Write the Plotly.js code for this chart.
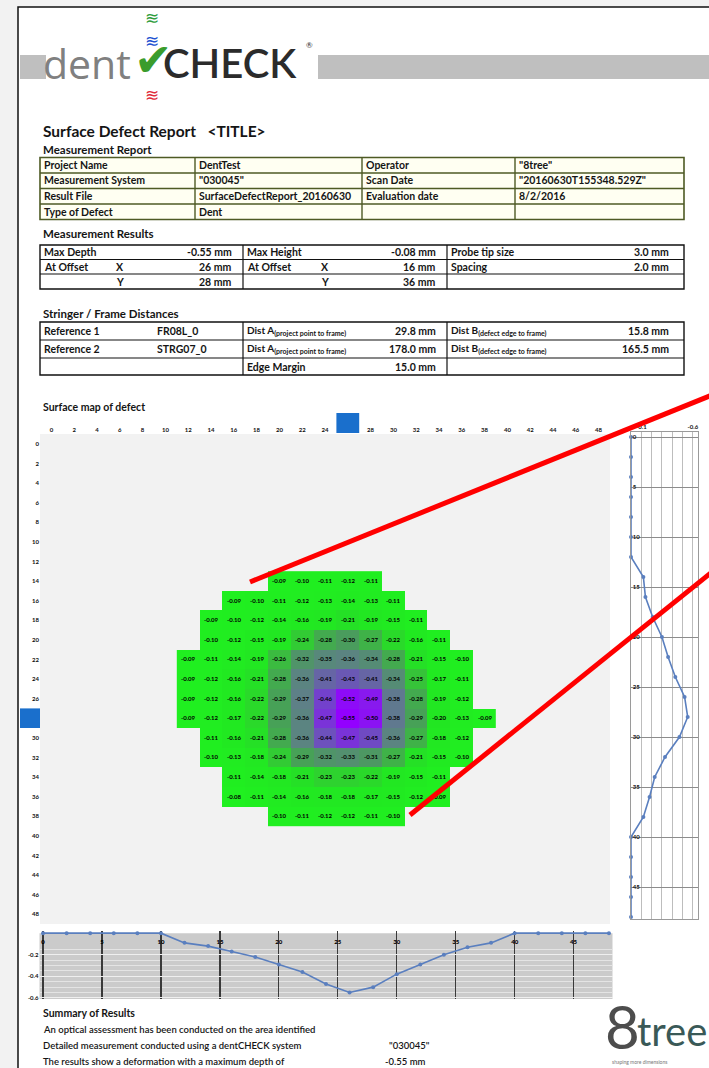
<!DOCTYPE html>
<html>
<head>
<meta charset="utf-8">
<script src="https://cdn.plot.ly/plotly-3.0.1.min.js"></script>
<style>html,body{margin:0;padding:0;background:#fff;}#chart{width:709px;height:1068px;}</style>
</head>
<body>
<div id="chart"></div>
<script>
// ---------------- DATA ----------------
// grid positions (mm), spacing 2.0 mm
const gridMM = [0,2,4,6,8,10,12,14,16,18,20,22,24,26,28,30,32,34,36,38,40,42,44,46,48];
// surface map columns / rows that contain measured depth (mm)
const mapXmm = [12,14,16,18,20,22,24,26,28,30,32,34,36,38];
const mapYmm = [14,16,18,20,22,24,26,28,30,32,34,36,38];
// depth (mm) for each row Y, columns X = 12..38
const depthY14 = [null,null,null,null,-0.09,-0.10,-0.11,-0.12,-0.11,null,null,null,null,null];
const depthY16 = [null,null,-0.09,-0.10,-0.11,-0.12,-0.13,-0.14,-0.13,-0.11,null,null,null,null];
const depthY18 = [null,-0.09,-0.10,-0.12,-0.14,-0.16,-0.19,-0.21,-0.19,-0.15,-0.11,null,null,null];
const depthY20 = [null,-0.10,-0.12,-0.15,-0.19,-0.24,-0.28,-0.30,-0.27,-0.22,-0.16,-0.11,null,null];
const depthY22 = [-0.09,-0.11,-0.14,-0.19,-0.26,-0.32,-0.35,-0.36,-0.34,-0.28,-0.21,-0.15,-0.10,null];
const depthY24 = [-0.09,-0.12,-0.16,-0.21,-0.28,-0.36,-0.41,-0.43,-0.41,-0.34,-0.25,-0.17,-0.11,null];
const depthY26 = [-0.09,-0.12,-0.16,-0.22,-0.29,-0.37,-0.46,-0.52,-0.49,-0.38,-0.28,-0.19,-0.12,null];
const depthY28 = [-0.09,-0.12,-0.17,-0.22,-0.29,-0.36,-0.47,-0.55,-0.50,-0.38,-0.29,-0.20,-0.13,-0.09];
const depthY30 = [null,-0.11,-0.16,-0.21,-0.28,-0.36,-0.44,-0.47,-0.45,-0.36,-0.27,-0.18,-0.12,null];
const depthY32 = [null,-0.10,-0.13,-0.18,-0.24,-0.29,-0.32,-0.33,-0.31,-0.27,-0.21,-0.15,-0.10,null];
const depthY34 = [null,null,-0.11,-0.14,-0.18,-0.21,-0.23,-0.23,-0.22,-0.19,-0.15,-0.11,null,null];
const depthY36 = [null,null,-0.08,-0.11,-0.14,-0.16,-0.18,-0.18,-0.17,-0.15,-0.12,-0.09,null,null];
const depthY38 = [null,null,null,null,-0.10,-0.11,-0.12,-0.12,-0.11,-0.10,null,null,null,null];
// profile through X = 26 mm (vs Y = 0..48)
const profileAtX26 = [0,0,0,0,0,0,0,-0.12,-0.14,-0.21,-0.30,-0.36,-0.43,-0.52,-0.55,-0.47,-0.33,-0.23,-0.18,-0.12,0,0,0,0,0];
// profile through Y = 28 mm (vs X = 0..48)
const profileAtY28 = [0,0,0,0,0,0,-0.09,-0.12,-0.17,-0.22,-0.29,-0.36,-0.47,-0.55,-0.50,-0.38,-0.29,-0.20,-0.13,-0.09,0,0,0,0,0];
// profile axes ticks
const sideTickVals = [0,-0.1,-0.2,-0.3,-0.4,-0.5,-0.6];
const sideTickText = ['','-0.1','','','','','-0.6'];
const sideYTicks = [0,5,10,15,20,25,30,35,40,45];
const bottomXTicks = [0,5,10,15,20,25,30,35,40,45];
const bottomYTicks = [0,-0.2,-0.4,-0.6];
const bottomYText = ['0','-0.2','-0.4','-0.6'];
// report tables
const reportLabels = ['Project Name','Measurement System','Result File','Type of Defect'];
const reportValues = ['DentTest','"030045"','SurfaceDefectReport_20160630','Dent'];
const reportLabels2 = ['Operator','Scan Date','Evaluation date',''];
const reportValues2 = ['"8tree"','"20160630T155348.529Z"','8/2/2016',''];
const maxDepth = -0.55, maxDepthX = 26, maxDepthY = 28;
const maxHeight = -0.08, maxHeightX = 16, maxHeightY = 36;
const probeTip = 3.0, spacing = 2.0;
const refNames = ['Reference 1','Reference 2'];
const refIds = ['FR08L_0','STRG07_0'];
const distA = [29.8, 178.0];
const distB = [15.8, 165.5];
const edgeMargin = 15.0;
const systemId = '"030045"';

// ---------------- HELPERS ----------------
const W = 709, H = 1068;
const FONT = 'Lato, "Open Sans", sans-serif';
const px = v => v / W, py = v => 1 - v / H;
function rect(x0,y0,x1,y1,fill,lc,lw,layer){
  return {type:'rect',xref:'paper',yref:'paper',x0:px(x0),x1:px(x1),y0:py(y0),y1:py(y1),
    fillcolor:fill||'rgba(0,0,0,0)',line:{color:lc||'rgba(0,0,0,0)',width:lw||0},layer:layer||'below'};
}
function seg(x0,y0,x1,y1,color,lw,layer){
  return {type:'line',xref:'paper',yref:'paper',x0:px(x0),x1:px(x1),y0:py(y0),y1:py(y1),
    line:{color:color,width:lw},layer:layer||'above'};
}
function T(text,x,y,o){
  o = o||{};
  return {text:text,xref:'paper',yref:'paper',x:px(x),y:py(y),showarrow:false,
    xanchor:o.anchor||'left',yanchor:'middle',borderpad:0,
    font:{family:o.family||FONT,size:o.size||10.5,color:o.color||'#151515',weight:(o.weight===undefined?700:o.weight)}};
}

// ---------------- SHAPES ----------------
const shapes = [];
shapes.push(rect(18,7,712,1072,'#ffffff','#111',1.5,'below'));
shapes.push(rect(20,55,46,79,'#bfbfbf',null,0,'below'));
shapes.push(rect(318,55,712,79,'#bfbfbf',null,0,'below'));
// table 1
shapes.push(rect(40,157.5,684,219.5,'#fffff2','#4e5a24',1.6,'below'));
[173,188.5,204].forEach(y=>shapes.push(seg(40,y,684,y,'#4e5a24',1.4)));
[195,362,515].forEach(x=>shapes.push(seg(x,157.5,x,219.5,'#4e5a24',1.4)));
// table 2
shapes.push(rect(40,245,684,289,'#ffffff','#111',1.4,'below'));
[259.5,274].forEach(y=>shapes.push(seg(40,y,684,y,'#111',1.2)));
[243,447].forEach(x=>shapes.push(seg(x,245,x,289,'#111',1.2)));
// table 3
shapes.push(rect(40,322,684,375,'#ffffff','#111',1.4,'below'));
[340,358].forEach(y=>shapes.push(seg(40,y,684,y,'#111',1.2)));
[243,447].forEach(x=>shapes.push(seg(x,322,x,375,'#111',1.2)));
// plot backgrounds
shapes.push({type:'rect',xref:'x domain',yref:'y domain',x0:0,x1:1,y0:0,y1:1,fillcolor:'#f2f2f2',line:{width:0},layer:'below'});
shapes.push({type:'rect',xref:'x3 domain',yref:'y3',x0:0,x1:1,y0:-0.61,y1:0,fillcolor:'#cbcbcb',line:{width:0},layer:'below'});
// position markers of max depth
shapes.push({type:'rect',xref:'x',yref:'paper',x0:maxDepthX-1,x1:maxDepthX+1,y0:py(433),y1:py(413),fillcolor:'#1a6fcc',line:{width:0},layer:'above'});
shapes.push({type:'rect',xref:'paper',yref:'y',x0:px(20),x1:px(40),y0:maxDepthY-1,y1:maxDepthY+1,fillcolor:'#1a6fcc',line:{width:0},layer:'above'});
// red callout lines
shapes.push(seg(250,582,712,395,'#ff0000',5,'above'));
shapes.push(seg(410,815,712,572,'#ff0000',5,'above'));

// ---------------- ANNOTATIONS ----------------
const ann = [];
// logo
ann.push(T('dent',42,63,{size:41,color:'#808080',weight:400,family:'"Open Sans", Lato, sans-serif'}));
ann.push(T('CHECK',162,63,{size:40,color:'#2b2b2b',weight:600}));
ann.push(T('✔',153,60,{size:46,color:'#3a9c2c',anchor:'center',family:'DejaVu Sans',weight:400}));
ann.push(T('®',305,45,{size:8,color:'#333',weight:400}));
ann.push(T('≋',152,18,{size:17,color:'#2e9c3c',anchor:'center',family:'DejaVu Sans',weight:400}));
ann.push(T('≋',152,41,{size:17,color:'#2050d0',anchor:'center',family:'DejaVu Sans',weight:400}));
ann.push(T('≋',152,95,{size:17,color:'#e02a3a',anchor:'center',family:'DejaVu Sans',weight:400}));
// titles
ann.push(T('Surface Defect Report &nbsp; &lt;TITLE&gt;',42,131,{size:15.5}));
ann.push(T('Measurement Report',42,149,{size:11.5}));
// table 1
const t1rows = [165,180.5,196,212];
t1rows.forEach((y,i)=>{
  ann.push(T(reportLabels[i],43,y));
  ann.push(T(reportValues[i],198,y));
  if (reportLabels2[i]) ann.push(T(reportLabels2[i],365,y));
  if (reportValues2[i]) ann.push(T(reportValues2[i],518,y));
});
// table 2
ann.push(T('Measurement Results',42,234,{size:11.5}));
ann.push(T('Max Depth',43,252)); ann.push(T(maxDepth.toFixed(2)+' mm',233,252,{anchor:'right'}));
ann.push(T('At Offset',43,267)); ann.push(T('X',115,267)); ann.push(T(maxDepthX+' mm',233,267,{anchor:'right'}));
ann.push(T('Y',115,282)); ann.push(T(maxDepthY+' mm',233,282,{anchor:'right'}));
ann.push(T('Max Height',246,252)); ann.push(T(maxHeight.toFixed(2)+' mm',437,252,{anchor:'right'}));
ann.push(T('At Offset',246,267)); ann.push(T('X',320,267)); ann.push(T(maxHeightX+' mm',437,267,{anchor:'right'}));
ann.push(T('Y',320,282)); ann.push(T(maxHeightY+' mm',437,282,{anchor:'right'}));
ann.push(T('Probe tip size',450,252)); ann.push(T(probeTip.toFixed(1)+' mm',670,252,{anchor:'right'}));
ann.push(T('Spacing',450,267)); ann.push(T(spacing.toFixed(1)+' mm',670,267,{anchor:'right'}));
// table 3
ann.push(T('Stringer / Frame Distances',42,314,{size:11.5}));
[331,349].forEach((y,i)=>{
  ann.push(T(refNames[i],43,y));
  ann.push(T(refIds[i],156,y));
  ann.push(T('Dist A<sub>(project point to frame)</sub>',246,y,{size:10}));
  ann.push(T(distA[i].toFixed(1)+' mm',437,y,{anchor:'right'}));
  ann.push(T('Dist B<sub>(defect edge to frame)</sub>',450,y,{size:10}));
  ann.push(T(distB[i].toFixed(1)+' mm',670,y,{anchor:'right'}));
});
ann.push(T('Edge Margin',246,366.5)); ann.push(T(edgeMargin.toFixed(1)+' mm',437,366.5,{anchor:'right'}));
// map title
ann.push(T('Surface map of defect',42,407,{size:10.5}));
// summary
ann.push(T('Summary of Results',42,1013,{size:10.5}));
ann.push(T('An optical assessment has been conducted on the area identified',42,1029,{size:9.5,weight:600}));
ann.push(T('Detailed measurement conducted using a dentCHECK system',42,1045,{size:9.5,weight:600}));
ann.push(T(systemId,388,1045,{size:9.5,weight:600}));
ann.push(T('The results show a deformation with a maximum depth of',42,1061,{size:9.5,weight:600}));
ann.push(T(maxDepth.toFixed(2)+' mm',384,1061,{size:9.5,weight:600}));
// 8tree logo
ann.push(T('8',604,1026,{size:60,color:'#4d4d4d',weight:400}));
ann.push(T('tree',636,1031,{size:40,color:'#3a5957',weight:400}));
ann.push(T('shaping more dimensions',611,1062,{size:5,color:'#777',weight:400}));

// ---------------- TRACES ----------------
const lineBlue = '#5a7fbf';
const traces = [
  {type:'heatmap', x:mapXmm, y:mapYmm,
   z:[depthY14,depthY16,depthY18,depthY20,depthY22,depthY24,depthY26,depthY28,depthY30,depthY32,depthY34,depthY36,depthY38],
   zmin:-0.55, zmax:-0.08, showscale:false, hoverinfo:'skip',
   colorscale:[[0,'#9300ff'],[0.12,'#8a14f2'],[0.2,'#7046c8'],[0.38,'#5e7f88'],[0.55,'#48a058'],[0.64,'#36c438'],[0.74,'#22e622'],[1,'#20f020']],
   texttemplate:'%{z:.2f}', textfont:{family:FONT,size:6,color:'#000',weight:700},
   xaxis:'x', yaxis:'y'},
  {type:'scatter', mode:'lines+markers', x:profileAtX26, y:gridMM, xaxis:'x2', yaxis:'y2',
   line:{color:lineBlue,width:1.6}, marker:{size:4,color:lineBlue}, cliponaxis:false, hoverinfo:'skip'},
  {type:'scatter', mode:'lines+markers', x:gridMM, y:profileAtY28, xaxis:'x3', yaxis:'y3',
   line:{color:lineBlue,width:1.6}, marker:{size:4,color:lineBlue}, cliponaxis:false, hoverinfo:'skip'}
];

const tickF = {family:FONT,size:6,color:'#111',weight:700};
const layout = {
  width:W, height:H, margin:{l:0,r:0,t:0,b:0,pad:0},
  paper_bgcolor:'#f2f2f2', plot_bgcolor:'rgba(0,0,0,0)', showlegend:false, hovermode:false,
  xaxis:{domain:[px(40),px(610)], anchor:'y', range:[-1,49], side:'top', tickmode:'array', tickvals:gridMM,
         ticks:'', showgrid:false, zeroline:false, showline:false, tickfont:tickF, fixedrange:true},
  yaxis:{domain:[py(924),py(434)], anchor:'x', range:[49,-1], tickmode:'array', tickvals:gridMM,
         ticks:'', showgrid:false, zeroline:false, showline:false, tickfont:tickF, fixedrange:true},
  xaxis2:{domain:[px(631),px(698)], anchor:'y2', range:[0,-0.65], side:'top', tickmode:'array',
          tickvals:sideTickVals, ticktext:sideTickText, ticks:'', showgrid:true, gridcolor:'#bdbdbd', gridwidth:1,
          zeroline:false, showline:true, mirror:true, linecolor:'#9a9a9a', linewidth:1, tickfont:tickF},
  yaxis2:{domain:[py(919),py(432)], anchor:'x2', range:[48.2,-0.5], tickmode:'array', tickvals:sideYTicks,
          ticklabelposition:'inside', ticks:'', showgrid:true, gridcolor:'#8c8c8c', gridwidth:1,
          zeroline:false, showline:true, mirror:true, linecolor:'#9a9a9a', linewidth:1, tickfont:tickF},
  xaxis3:{domain:[px(39.5),px(612.5)], anchor:'y3', range:[-0.3,48.3], side:'top', tickmode:'array', tickvals:bottomXTicks,
          ticklabelposition:'inside', ticklabelstandoff:6, ticks:'', showgrid:true, gridcolor:'#3a3a3a', gridwidth:1.3,
          zeroline:false, showline:false, tickfont:{family:FONT,size:6,color:'#000',weight:900}},
  yaxis3:{domain:[py(999),py(931)], anchor:'x3', range:[-0.61,0.02], tickmode:'array', tickvals:bottomYTicks, ticktext:bottomYText,
          ticklabeloverflow:'allow', ticks:'', showgrid:true, gridcolor:'#efefef', gridwidth:1, zeroline:false, showline:false, tickfont:tickF,
          minor:{tickmode:'linear', tick0:0, dtick:0.05, showgrid:true, gridcolor:'#e4e4e4', gridwidth:1}},
  shapes:shapes, annotations:ann
};
Plotly.newPlot('chart', traces, layout, {staticPlot:true, displayModeBar:false});
</script>
</body>
</html>
